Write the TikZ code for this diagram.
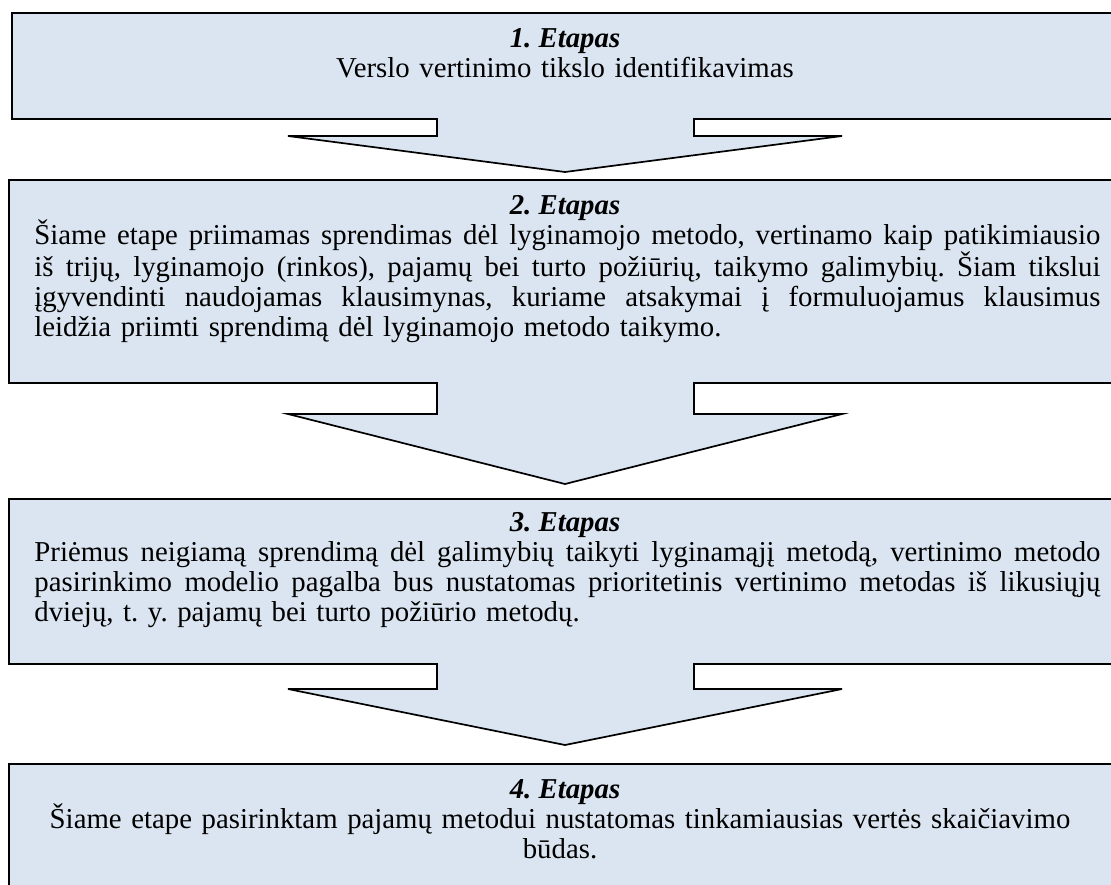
\documentclass[tikz,border=0pt]{standalone}
\usepackage{fontspec}
\setmainfont{Liberation Serif}
\frenchspacing
\definecolor{stagefill}{HTML}{DBE5F1}
\newcommand\stagefont{\fontsize{14.4}{15}\selectfont}
% one full justified line of a paragraph (stretchable word spaces)
\newcommand\jline[1]{{\spaceskip=0.25em plus 1em minus 0.03em\relax\makebox[533pt][s]{#1}}}
\tikzset{
  stage/.style={fill=stagefill, draw=black, line width=0.85pt, line join=miter},
  stagetitle/.style={inner sep=0pt, anchor=base, font=\stagefont\bfseries\itshape},
  stagebody/.style={inner sep=0pt, anchor=base west, text width=533pt, align=left, font=\stagefont},
  stagecentre/.style={inner sep=0pt, anchor=base, text width=533pt, align=center, font=\stagefont},
}
% box with a down-pointing arrow: #1 left, #2 top, #3 bottom, #4 end of stem, #5 arrow tip
\newcommand\stageshape[5]{%
  \path[stage] (#1,#2) -- (1120,#2) -- (1120,#3) -- (694,#3) -- (694,#4)
    -- (842,#4) -- (565,#5) -- (288,#4) -- (437,#4) -- (437,#3) -- (#1,#3) -- cycle;}
\begin{document}
\begin{tikzpicture}[x=0.5pt, y=-0.5pt]
  \useasboundingbox (0,0) rectangle (1111,884);
  \clip (0,0) rectangle (1111,884);

  % stage outlines
  \stageshape{12}{13}{119}{136}{172}
  \stageshape{9}{180}{383}{414}{484}
  \stageshape{9}{499}{664}{689}{745}
  \path[stage] (9,764) rectangle (1120,900);

  % stage 1
  \node[stagetitle] (t1) at (565,47) {1. Etapas};
  \node[stagecentre] (b1) at (565,77) {Verslo vertinimo tikslo identifikavimas};

  % stage 2
  \node[stagetitle] (t2) at (565,214) {2. Etapas};
  \node[stagebody] (b2) at (34,244) {%
    \jline{Šiame etape priimamas sprendimas dėl lyginamojo metodo, vertinamo kaip patikimiausio}\\
    \jline{iš trijų, lyginamojo (rinkos), pajamų bei turto požiūrių, taikymo galimybių. Šiam tikslui}\\
    \jline{įgyvendinti naudojamas klausimynas, kuriame atsakymai į formuluojamus klausimus}\\
    leidžia priimti sprendimą dėl lyginamojo metodo taikymo.};

  % stage 3
  \node[stagetitle] (t3) at (565,531) {3. Etapas};
  \node[stagebody] (b3) at (34,561) {%
    \jline{Priėmus neigiamą sprendimą dėl galimybių taikyti lyginamąjį metodą, vertinimo metodo}\\
    \jline{pasirinkimo modelio pagalba bus nustatomas prioritetinis vertinimo metodas iš likusiųjų}\\
    dviejų, t. y. pajamų bei turto požiūrio metodų.};

  % stage 4
  \node[stagetitle] (t4) at (565,798) {4. Etapas};
  \node[stagecentre] (b4) at (560,828) {Šiame etape pasirinktam pajamų metodui nustatomas tinkamiausias vertės skaičiavimo\\
    būdas.};
\end{tikzpicture}
\end{document}
